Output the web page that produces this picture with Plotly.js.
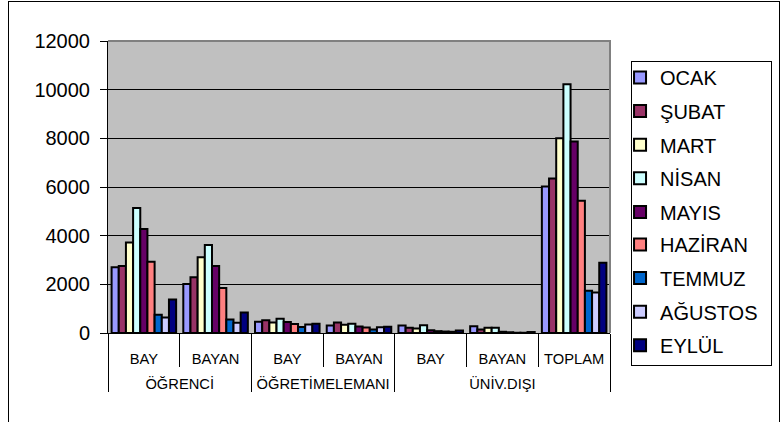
<!DOCTYPE html>
<html>
<head>
<meta charset="utf-8">
<script src="https://cdn.plot.ly/plotly-3.0.1.min.js"></script>
<style>
html,body{margin:0;padding:0;background:#fff;overflow:hidden;}
#frame{position:absolute;left:8px;top:1px;width:772px;height:440px;border:1px solid #000;box-sizing:border-box;}
#legbox{position:absolute;left:631px;top:61px;width:141px;height:305px;border:1px solid #000;background:#fff;box-sizing:border-box;}
#chart{position:absolute;left:0;top:0;width:780px;height:422px;}
#plotedge{position:absolute;left:108px;top:40px;width:503px;height:293px;border-top:2px solid #808080;border-right:2px solid #808080;box-sizing:border-box;pointer-events:none;}
</style>
</head>
<body>
<div id="frame"></div>
<div id="legbox"></div>
<div id="chart"></div>
<div id="plotedge"></div>
<script>
const groups = ["ÖĞRENCİ","ÖĞRENCİ","ÖĞRETİMELEMANI","ÖĞRETİMELEMANI","ÜNİV.DIŞI","ÜNİV.DIŞI","ÜNİV.DIŞI"];
const subcats = ["BAY","BAYAN","BAY","BAYAN","BAY","BAYAN","TOPLAM"];
const months = ["OCAK","ŞUBAT","MART","NİSAN","MAYIS","HAZİRAN","TEMMUZ","AĞUSTOS","EYLÜL"];
const ocak    = [2700, 2010, 460, 310, 310, 280, 6020];
const subat   = [2750, 2290, 520, 430, 215, 145, 6350];
const mart    = [3720, 3110, 430, 340, 185, 215, 8000];
const nisan   = [5140, 3620, 590, 380, 320, 215, 10220];
const mayis   = [4270, 2750, 450, 270, 110, 50, 7870];
const haziran = [2930, 1850, 365, 230, 75, 30, 5430];
const temmuz  = [750, 550, 250, 145, 60, 10, 1740];
const agustos = [640, 420, 350, 240, 50, 10, 1660];
const eylul   = [1380, 840, 380, 255, 100, 40, 2890];
const seriesValues = [ocak, subat, mart, nisan, mayis, haziran, temmuz, agustos, eylul];
const colors = ["#9999FF","#993366","#FFFFCC","#CCFFFF","#660066","#FF8080","#0066CC","#CCCCFF","#000080"];

// second (blank) line only reserves room between the two label rows
const subLabels = subcats.map(s => s + "<br>\u00a0");

const traces = months.map((m, i) => ({
  type: "bar",
  name: m,
  x: [groups, subLabels],
  y: seriesValues[i],
  legendgroup: m,
  legend: i < 5 ? "legend" : "legend2",
  marker: {color: colors[i], line: {color: "#000", width: 2}}
}));

const font = "Liberation Sans, Arial, sans-serif";
const legendBase = {
  x: 1.02, xanchor: "left", yanchor: "top",
  bgcolor: "rgba(0,0,0,0)", borderwidth: 0,
  font: {family: font, size: 20, color: "#000"},
  tracegroupgap: 4.6, traceorder: "grouped"
};
const layout = {
  width: 780, height: 422,
  margin: {l: 108, r: 170, t: 41, b: 89},
  paper_bgcolor: "rgba(0,0,0,0)",
  plot_bgcolor: "#C0C0C0",
  barmode: "group",
  bargap: 0.1,
  bargroupgap: 0,
  font: {family: font, color: "#000"},
  xaxis: {
    type: "multicategory",
    showline: true, linecolor: "#000", linewidth: 1,
    ticks: "outside", ticklen: 33, tickcolor: "#000", tickwidth: 1,
    tickson: "boundaries",
    ticklabelstandoff: 12,
    showdividers: true, dividercolor: "#000", dividerwidth: 1,
    tickfont: {family: font, size: 14.7, color: "#000"},
    showgrid: false, zeroline: false
  },
  yaxis: {
    range: [0, 12000], dtick: 2000, tick0: 0, tickformat: "d",
    showline: true, linecolor: "#000", linewidth: 1,
    ticks: "outside", ticklen: 7, tickcolor: "#000",
    ticklabelstandoff: 6,
    showgrid: true, gridcolor: "#000", gridwidth: 1,
    zeroline: false,
    tickfont: {family: font, size: 20, color: "#000"}
  },
  legend: Object.assign({}, legendBase, {y: 0.9418}),
  legend2: Object.assign({}, legendBase, {y: 0.3699}),
  showlegend: true
};
Plotly.newPlot("chart", traces, layout, {displayModeBar: false, staticPlot: true});
</script>
</body>
</html>
